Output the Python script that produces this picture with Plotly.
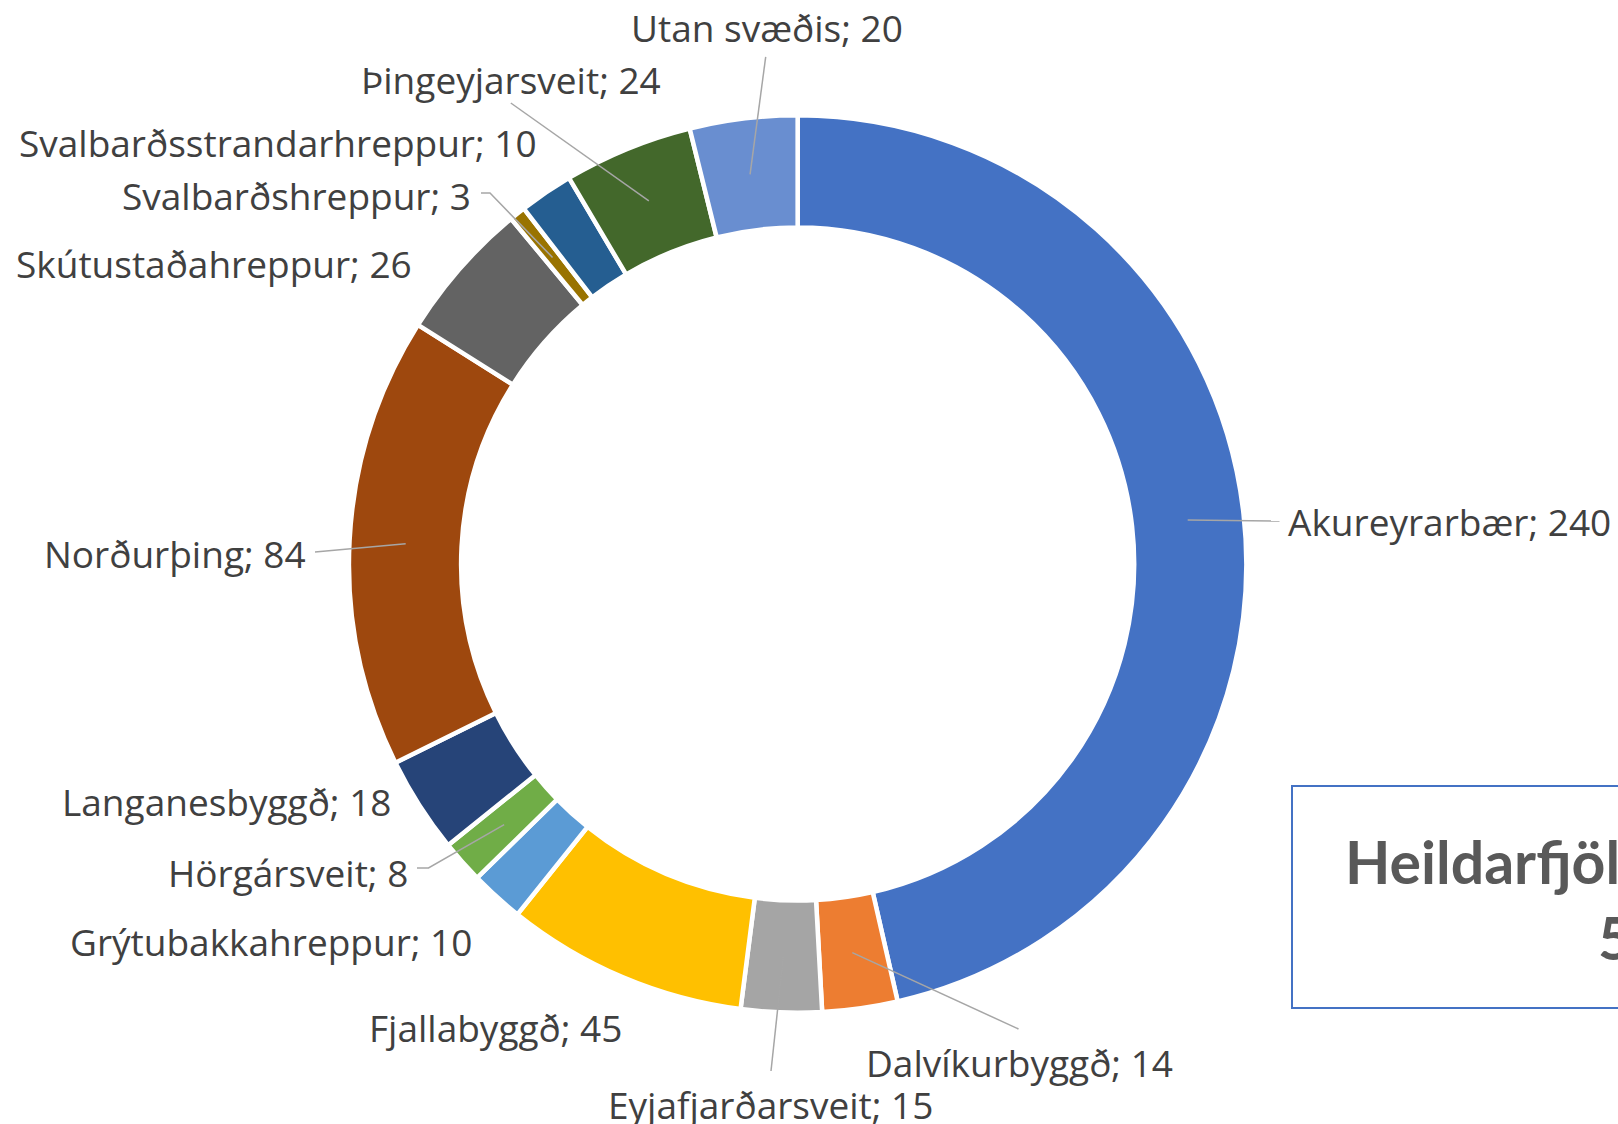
import math
import plotly.graph_objects as go

# ---------------- data ----------------
categories = [
    "Akureyrarbær", "Dalvíkurbyggð", "Eyjafjarðarsveit", "Fjallabyggð",
    "Grýtubakkahreppur", "Hörgársveit", "Langanesbyggð", "Norðurþing",
    "Skútustaðahreppur", "Svalbarðshreppur", "Svalbarðsstrandarhreppur",
    "Þingeyjarsveit", "Utan svæðis",
]
values = [240, 14, 15, 45, 10, 8, 18, 84, 26, 3, 10, 24, 20]
colors = [
    "#4472C4", "#ED7D31", "#A5A5A5", "#FFC000", "#5B9BD5", "#70AD47",
    "#264478", "#9E480E", "#636363", "#997300", "#255E91", "#43682B",
    "#698ED0",
]
total_label = "Heildarfjöldi svara:"

# ---------------- layout constants (pixels) ----------------
W, H = 1618, 1124
CX, CY = 797.65, 564.0      # ring centre
R = 448.7                    # outer radius
HOLE = 0.75
RM = 392.5                   # radius where leader lines start (mid ring)

# label anchor (x, y, xanchor) and leader end points (label side)
label_layout = [
    (1288, 521, "left", [(1279.5, 521)]),
    (1019, 1062.5, "center", [(1018.5, 1029)]),
    (770.5, 1104.7, "center", [(771, 1071)]),
    (622, 1027, "right", None),
    (472, 941.7, "right", None),
    (408, 872, "right", [(428.5, 868), (417, 868)]),
    (392, 801.3, "right", None),
    (306, 553.6, "right", [(315, 552)]),
    (412, 263.7, "right", None),
    (470.5, 195, "right", [(490, 193), (481, 193)]),
    (536.6, 142.5, "right", None),
    (510.7, 79, "center", [(510.8, 103)]),
    (766.6, 27.8, "center", [(765.7, 56.8)]),
]

LABEL_FONT = dict(family="Open Sans", size=37, color="#404040")
LEADER = dict(color="#A6A6A6", width=1.5)

fig = go.Figure()

fig.add_trace(go.Pie(
    labels=categories,
    values=values,
    sort=False,
    direction="clockwise",
    rotation=0,
    hole=HOLE,
    marker=dict(colors=colors, line=dict(color="white", width=4.5)),
    textinfo="none",
    hoverinfo="label+value",
    showlegend=False,
    domain=dict(
        x=[(CX - R) / W, (CX + R) / W],
        y=[1 - (CY + R) / H, 1 - (CY - R) / H],
    ),
))

# invisible scatter so that the pixel-based axes exist
fig.add_trace(go.Scatter(x=[0, W], y=[0, H], mode="markers",
                         marker=dict(opacity=0), hoverinfo="skip",
                         showlegend=False))

total = sum(values)
shapes = []
annotations = []
cum = 0
for name, v, (lx, ly, anc, pts) in zip(categories, values, label_layout):
    theta = math.radians((cum + v / 2) / total * 360)
    cum += v
    px = CX + RM * math.sin(theta)
    py = CY - RM * math.cos(theta)
    if pts:
        path = f"M {px},{py} " + " ".join(f"L {x},{y}" for x, y in pts)
        shapes.append(dict(type="path", path=path, xref="x", yref="y",
                           line=LEADER, layer="above"))
    annotations.append(dict(
        x=lx, y=ly, xref="x", yref="y", text=f"{name}; {v}",
        showarrow=False, xanchor=anc, yanchor="middle",
        font=LABEL_FONT, borderpad=0, borderwidth=0,
    ))

# total box (extends beyond right edge as in the reference)
shapes.append(dict(type="rect", x0=1292, y0=786, x1=1800, y1=1008,
                   xref="x", yref="y",
                   line=dict(color="#4472C4", width=2),
                   fillcolor="rgba(0,0,0,0)", layer="above"))
BOX_FONT = dict(family="Lato", size=59, color="#595959")
annotations.append(dict(x=1345, y=861, xref="x", yref="y",
                        text=f"<b>{total_label}</b>", showarrow=False,
                        xanchor="left", yanchor="middle", font=BOX_FONT,
                        borderpad=0, borderwidth=0))
annotations.append(dict(x=1598, y=937, xref="x", yref="y",
                        text=f"<b>{total}</b>", showarrow=False,
                        xanchor="left", yanchor="middle", font=BOX_FONT,
                        borderpad=0, borderwidth=0))

fig.update_layout(
    width=W, height=H,
    margin=dict(l=0, r=0, t=0, b=0),
    paper_bgcolor="white", plot_bgcolor="rgba(0,0,0,0)",
    xaxis=dict(range=[0, W], visible=False, fixedrange=True, domain=[0, 1]),
    yaxis=dict(range=[H, 0], visible=False, fixedrange=True, domain=[0, 1]),
    shapes=shapes,
    annotations=annotations,
)

fig.write_html("out.html", config={"displayModeBar": False},
               post_script="document.body.style.margin='0';")
